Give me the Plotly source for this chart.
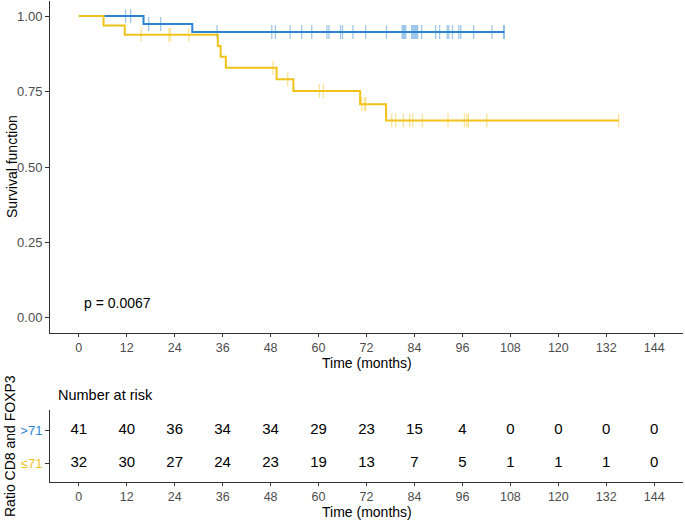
import plotly.graph_objects as go
from plotly.subplots import make_subplots

# ---- data ----
blue_step_times = [0, 16.2, 28.4]
blue_step_surv = [1.0, 0.974, 0.947]
blue_end = 106.5
blue_censor = [11.7, 13.0, 17.5, 20.5, 34.6, 48.3, 49.2, 52.9, 55.8, 58.3,
               62.1, 62.6, 65.5, 66.0, 68.6, 71.8, 77.0, 80.9, 81.2, 81.5,
               81.8, 83.3, 83.6, 83.9, 84.2, 84.5, 84.8, 85.8, 89.3, 90.3,
               92.2, 92.6, 93.5, 95.1, 95.6, 98.8, 103.4, 106.3, 106.5]

yel_step_times = [0, 6.2, 11.5, 34.8, 35.5, 36.8, 49.5, 53.7, 70.4, 76.9]
yel_step_surv = [1.0, 0.969, 0.938, 0.901, 0.865, 0.829, 0.791, 0.752, 0.708, 0.654]
yel_end = 135.1
yel_censor = [15.6, 22.6, 22.9, 27.5, 48.6, 52.3, 60.2, 61.2, 70.8, 71.5,
              71.8, 78.3, 79.3, 81.2, 82.8, 83.6, 86.0, 92.4, 96.5, 97.1,
              97.5, 102.1, 135.1]

risk_times = [0, 12, 24, 36, 48, 60, 72, 84, 96, 108, 120, 132, 144]
risk_high = [41, 40, 36, 34, 34, 29, 23, 15, 4, 0, 0, 0, 0]
risk_low = [32, 30, 27, 24, 23, 19, 13, 7, 5, 1, 1, 1, 0]
group_labels = [">71", "≤71"]
p_text = "p = 0.0067"

BLUE = "#2C86D1"
YEL = "#F0C21A"
FONT = "Liberation Sans, Arial, sans-serif"
TICKC = "#4D4D4D"


def step_value(times, surv, t):
    v = surv[0]
    for tt, s in zip(times, surv):
        if tt <= t:
            v = s
    return v


fig = make_subplots(rows=2, cols=1)

for times, surv, end, cens, col in [
    (blue_step_times, blue_step_surv, blue_end, blue_censor, BLUE),
    (yel_step_times, yel_step_surv, yel_end, yel_censor, YEL),
]:
    fig.add_trace(go.Scatter(x=times + [end], y=surv + [surv[-1]], mode="lines",
                             line=dict(color=col, width=2, shape="hv"),
                             showlegend=False, hoverinfo="skip"), row=1, col=1)
    fig.add_trace(go.Scatter(x=cens, y=[step_value(times, surv, c) for c in cens],
                             mode="markers",
                             marker=dict(symbol="line-ns-open", size=10, color=col,
                                         line=dict(color=col, width=1.3), opacity=0.45),
                             showlegend=False, hoverinfo="skip"), row=1, col=1)

fig.add_trace(go.Scatter(x=risk_times, y=[2] * len(risk_times), mode="text",
                         text=[str(v) for v in risk_high],
                         textfont=dict(size=15, color="black", family=FONT),
                         showlegend=False, hoverinfo="skip"), row=2, col=1)
fig.add_trace(go.Scatter(x=risk_times, y=[1] * len(risk_times), mode="text",
                         text=[str(v) for v in risk_low],
                         textfont=dict(size=15, color="black", family=FONT),
                         showlegend=False, hoverinfo="skip"), row=2, col=1)

H = 521.0
xcommon = dict(range=[-7.2, 151.2], tickvals=risk_times, ticks="outside", ticklen=3,
               tickcolor="#333333", showline=True, linecolor="#333333", linewidth=1,
               showgrid=False, zeroline=False, automargin=False,
               tickfont=dict(size=12.5, color=TICKC, family=FONT))

fig.update_layout(
    width=685, height=521,
    margin=dict(l=50, r=2, t=0, b=0),
    paper_bgcolor="white", plot_bgcolor="white",
    xaxis=dict(domain=[0, 1], anchor="y", **xcommon),
    yaxis=dict(domain=[1 - 333 / H, 1 - 1 / H], range=[-0.05, 1.05],
               tickvals=[0, 0.25, 0.5, 0.75, 1.0],
               ticktext=["0.00", "0.25", "0.50", "0.75", "1.00"],
               ticks="outside", ticklen=4, tickcolor="#333333",
               showline=True, linecolor="#333333", linewidth=1,
               showgrid=False, zeroline=False, automargin=False,
               tickfont=dict(size=13, color=TICKC, family=FONT)),
    xaxis2=dict(domain=[0, 1], anchor="y2", **xcommon),
    yaxis2=dict(domain=[1 - 482 / H, 1 - 410 / H], range=[0.45, 2.6],
                tickvals=[2, 1],
                ticktext=[f'<span style="color:{BLUE}">{group_labels[0]}</span>',
                          f'<span style="color:{YEL}">{group_labels[1]}</span>'],
                ticks="outside", ticklen=4, tickcolor="#333333",
                showline=True, linecolor="#333333", linewidth=1,
                showgrid=False, zeroline=False, automargin=False,
                tickfont=dict(size=13, family=FONT)),
    annotations=[
        dict(text="Survival function", textangle=-90, xref="paper", yref="paper",
             x=0, y=1 - 167 / H, xshift=-38, yanchor="middle", xanchor="center",
             showarrow=False, font=dict(size=14, color="black", family=FONT)),
        dict(text="Ratio CD8 and FOXP3", textangle=-90, xref="paper", yref="paper",
             x=0, y=1 - 446 / H, xshift=-40, yanchor="middle", xanchor="center",
             showarrow=False, font=dict(size=14, color="black", family=FONT)),
        dict(text="Time (months)", xref="x", yref="paper", x=72, y=1 - 363 / H,
             yanchor="middle", showarrow=False,
             font=dict(size=14, color="black", family=FONT)),
        dict(text="Time (months)", xref="x", yref="paper", x=72, y=1 - 512 / H,
             yanchor="middle", showarrow=False,
             font=dict(size=14, color="black", family=FONT)),
        dict(text=p_text, xref="x", yref="y", x=0.8, y=0.05, xanchor="left",
             yanchor="middle", showarrow=False,
             font=dict(size=14, color="black", family=FONT)),
        dict(text="Number at risk", xref="paper", yref="paper", x=0, y=1 - 395 / H,
             xanchor="left", yanchor="middle", xshift=6, showarrow=False,
             font=dict(size=14.5, color="black", family=FONT)),
    ],
)

fig.write_html("out.html", config={"displayModeBar": False},
               post_script="document.body.style.margin='0px';document.body.style.overflow='hidden';")
